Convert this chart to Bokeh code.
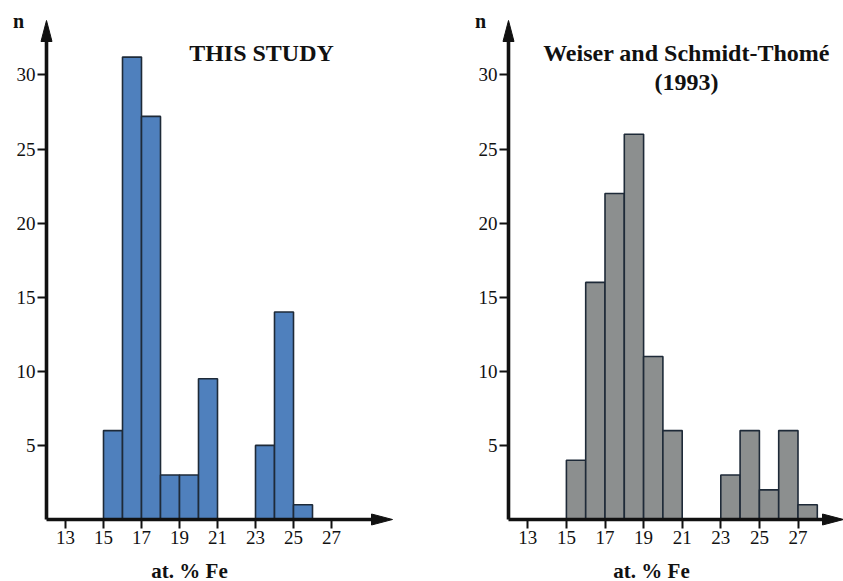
from bokeh.plotting import figure
from bokeh.layouts import row
from bokeh.models import Label, FixedTicker, Range1d
from bokeh.embed import file_html
from bokeh.resources import INLINE

# ---- data ----
left_edges = [15, 16, 17, 18, 19, 20, 21, 22, 23, 24, 25, 26]
left_counts = [6, 31.2, 27.2, 3, 3, 9.5, 0, 0, 5, 14, 1]
right_edges = [15, 16, 17, 18, 19, 20, 21, 22, 23, 24, 25, 26, 27, 28]
right_counts = [4, 16, 22, 26, 11, 6, 0, 0, 3, 6, 2, 6, 1]
x_ticks = [13, 15, 17, 19, 21, 23, 25, 27]
y_ticks = [5, 10, 15, 20, 25, 30]
left_title = ["THIS STUDY"]
right_title = ["Weiser and Schmidt-Thomé", "(1993)"]
x_label = "at. % Fe"
y_label = "n"

SERIF = "Liberation Serif"
INK = "#111111"
PX_PER_Y = 14.82
HEIGHT = 581
BASE_Y = 519          # pixel row of y = 0
Y_ARROW_TOP = 20      # pixel row of y-axis arrow tip
X0 = 12               # data x of the y axis
HEAD_LEN = 21         # arrow head length (px)
HEAD_HALF = 5.5       # arrow head half width (px)


def panel(width, axis_px, arrow_px, px_per_x, edges, counts, color, titles, title_px):
    x_start = X0 - axis_px / px_per_x
    x_end = x_start + width / px_per_x
    y_start = -(HEIGHT - BASE_Y) / PX_PER_Y
    y_end = BASE_Y / PX_PER_Y
    p = figure(width=width, height=HEIGHT, output_backend="svg", toolbar_location=None,
               x_range=Range1d(x_start, x_end), y_range=Range1d(y_start, y_end),
               min_border=0, background_fill_color="white",
               border_fill_color="white")
    p.outline_line_color = None
    p.grid.visible = False
    l = [edges[i] for i in range(len(counts)) if counts[i] > 0]
    r = [edges[i + 1] for i in range(len(counts)) if counts[i] > 0]
    t = [c for c in counts if c > 0]
    p.quad(left=l, right=r, top=t, bottom=0, fill_color=color,
           line_color="#1e2a38", line_width=1.6)
    p.xaxis.fixed_location = 0
    p.yaxis.fixed_location = X0
    for ax in (p.xaxis[0], p.yaxis[0]):
        ax.axis_line_color = None
        ax.major_tick_line_width = 2
        ax.major_tick_line_color = INK
        ax.major_tick_in = 0
        ax.major_tick_out = 9
        ax.minor_tick_line_color = None
        ax.major_label_text_font = SERIF
        ax.major_label_text_font_size = "19px"
        ax.major_label_text_color = INK
        ax.major_label_standoff = 2
    p.xaxis.ticker = FixedTicker(ticks=x_ticks)
    p.yaxis.ticker = FixedTicker(ticks=y_ticks)

    # axis lines with arrow heads
    x_tip = X0 + (arrow_px - axis_px) / px_per_x
    y_tip = (BASE_Y - Y_ARROW_TOP) / PX_PER_Y
    hx = HEAD_LEN / px_per_x
    hy = HEAD_LEN / PX_PER_Y
    p.segment(x0=[X0, X0], y0=[0, 0], x1=[x_tip - hx * 0.6, X0],
              y1=[0, y_tip - hy * 0.6], line_width=3.6, line_color=INK)
    p.patch(x=[x_tip, x_tip - hx, x_tip - hx],
            y=[0, HEAD_HALF / PX_PER_Y, -HEAD_HALF / PX_PER_Y],
            fill_color=INK, line_color=INK, line_width=1)
    p.patch(x=[X0, X0 - HEAD_HALF / px_per_x, X0 + HEAD_HALF / px_per_x],
            y=[y_tip, y_tip - hy, y_tip - hy],
            fill_color=INK, line_color=INK, line_width=1)

    p.add_layout(Label(x=X0 - 28 / px_per_x, y=y_tip, text=y_label, text_font=SERIF,
                       text_font_style="bold", text_font_size="20px", text_color=INK,
                       text_align="center", text_baseline="middle"))
    p.add_layout(Label(x=X0 + 143 / px_per_x, y=-51 / PX_PER_Y, text=x_label,
                       text_font=SERIF, text_font_style="bold", text_font_size="21px",
                       text_color=INK, text_align="center", text_baseline="middle"))
    for i, tt in enumerate(titles):
        p.add_layout(Label(x=X0 + title_px / px_per_x, y=(BASE_Y - 52 - 29 * i) / PX_PER_Y,
                           text=tt, text_font=SERIF, text_font_style="bold",
                           text_font_size="24px", text_color=INK,
                           text_align="center", text_baseline="middle"))
    return p


p1 = panel(470, 46, 392, 19.0, left_edges, left_counts, "#4f80bd", left_title, 215)
p2 = panel(373, 38, 373, 19.3, right_edges, right_counts, "#8c8f8f", right_title, 178)

layout = row(p1, p2)
open("out.html", "w").write(file_html(layout, INLINE))
